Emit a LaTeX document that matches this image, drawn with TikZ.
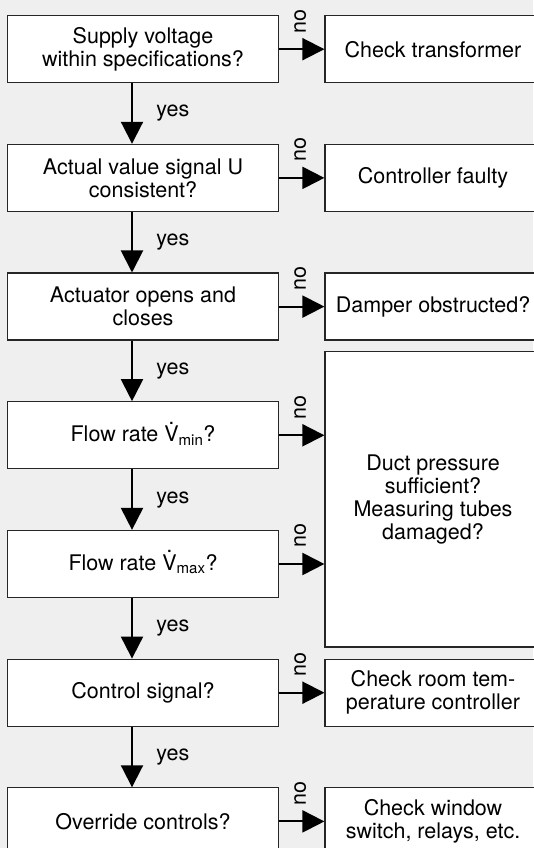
\documentclass[tikz,border=0pt]{standalone}
\usepackage{fontspec}
\setmainfont{TeX Gyre Heros}
\usetikzlibrary{arrows.meta}

\definecolor{bggray}{RGB}{239,239,239}
\newcommand{\Vdot}{{\ooalign{V\cr\hidewidth\raisebox{0.2em}{\char"02D9}\hidewidth\cr}}}

\begin{document}
\begin{tikzpicture}[x=1pt, y=1pt,
    >={Triangle[length=22pt, width=22pt]},
    txt/.style={font=\fontsize{21.5}{23}\selectfont},
    box/.style={txt, draw=black!85, line width=1.2pt, fill=white, align=center,
      inner sep=0pt, minimum height=67pt},
    check/.style={box, minimum width=271.5pt},
    remedy/.style={box, minimum width=216pt},
    flow/.style={->, line width=2pt}]

    \fill[bggray] (0, 0) rectangle (533, 848);
    \useasboundingbox (0, 0) rectangle (533, 848);

    % questions
    \node[check] (s1) at (143, 798.8) {Supply voltage\\within specifications?};
    \node[check] (s2) at (143, 670.1) {Actual value signal U\\consistent?};
    \node[check] (s3) at (143, 541.4) {Actuator opens and\\closes};
    \node[check] (s4) at (143, 412.7) {Flow rate \Vdot\textsubscript{min}?};
    \node[check] (s5) at (143, 284.0) {Flow rate \Vdot\textsubscript{max}?};
    \node[check] (s6) at (143, 155.3) {Control signal?};
    \node[check] (s7) at (143, 26.6) {Override controls?};

    % faults
    \node[remedy] (r1) at (433, 798.8) {Check transformer};
    \node[remedy] (r2) at (433, 670.1) {Controller faulty};
    \node[remedy] (r3) at (433, 541.4) {Damper obstructed?};
    \node[remedy, minimum height=295.3pt] (r4) at (433, 348.65)
      {Duct pressure\\sufficient?\\Measuring tubes\\damaged?};
    \node[remedy] (r6) at (433, 155.3) {Check room tem-\\perature controller};
    \node[remedy] (r7) at (433, 26.6) {Check window\\switch, relays, etc.};

    % yes
    \foreach \a/\b in {s1/s2, s2/s3, s3/s4, s4/s5, s5/s6, s6/s7}
      \draw[flow] ([xshift=-11pt]\a.south) -- ([xshift=-11pt]\b.north)
        node[midway, right=20pt, txt] (yes\a) {yes};

    % no
    \foreach \a in {s1, s2, s3, s4, s5, s6, s7} {
      \draw[flow] (\a.east) -- (\a.east -| r4.west);
      \node[txt, rotate=90] (no\a) at ([xshift=21pt, yshift=28pt]\a.east) {no};
    }
  \end{tikzpicture}
\end{document}
